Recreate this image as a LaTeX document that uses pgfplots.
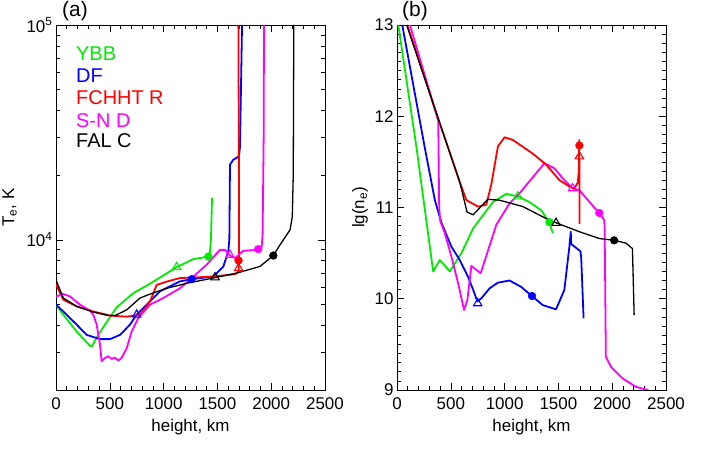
\documentclass[border=0pt]{standalone}
\usepackage{fontspec}
\setmainfont{Liberation Sans}
\usepackage{pgfplots}
\pgfplotsset{compat=1.18}

\definecolor{cgreen}{RGB}{0,235,0}
\definecolor{cblue}{RGB}{0,0,255}
\definecolor{cred}{RGB}{255,0,0}
\definecolor{cmag}{RGB}{255,0,255}

\pgfplotsset{
  idl/.style={
    scale only axis, width=269bp, height=365bp,
    xmin=0, xmax=2500, xtick={0,500,...,2500}, minor x tick num=4,
    tick pos=both, tick align=inside,
    major tick length=7bp, minor tick length=4bp,
    every tick/.style={black, line width=0.6pt},
    axis line style={line width=0.8pt},
    tick label style={font=\fontsize{17}{20}\selectfont},
    xticklabel style={yshift=-4bp},
    label style={font=\fontsize{17}{20}\selectfont},
    xlabel style={yshift=-3bp},
    /pgf/number format/assume math mode=true,
    /pgf/number format/1000 sep={},
    xlabel={height, km},
  },
  ln/.style={line width=1.8pt, line join=round, mark=none},
  lnk/.style={line width=1.3pt, line join=round, mark=none, black},
  tri/.style={only marks, mark=triangle, mark size=4.8bp, mark options={line width=1.1pt}},
  dot/.style={only marks, mark=*, mark size=3.9bp},
}

\begin{document}
\begin{tikzpicture}
\path[use as bounding box] (0,0) rectangle (704bp,463bp);

% (a) electron temperature
\begin{axis}[idl, at={(56bp,73bp)}, anchor=south west,
  ymode=log, ymin=2000, ymax=100000,
  ytick={10000,100000}, yticklabels={10\textsuperscript{4},10\textsuperscript{5}},
  minor ytick={2000,3000,4000,5000,6000,7000,8000,9000,20000,30000,40000,50000,60000,70000,80000,90000},
  ylabel={T\textsubscript{e}, K}, ylabel style={yshift=3bp}]
\addplot[ln, cgreen] coordinates {
  (0,4990) (68,4480) (192,3740) (316,3210) (332,3190) (393,3610) (486,4250)
  (564,4850) (719,5650) (874,6250) (1121,7460) (1276,8130) (1416,8360)
  (1430,8700) (1440,10000) (1450,15700)};
\addplot[ln, cblue] coordinates {
  (0,4990) (68,4640) (192,4030) (285,3610) (409,3450) (502,3450) (595,3610)
  (688,4030) (750,4480) (858,5080) (967,5760) (1150,6400) (1261,6560)
  (1462,6750) (1555,7510) (1601,8830) (1611,10000) (1617,22350) (1646,23550)
  (1695,24380) (1704,25300) (1710,27200) (1729,100000)};
\addplot[ln, cred] coordinates {
  (0,6200) (68,5260) (192,4900) (347,4640) (502,4440) (657,4390) (781,4480)
  (874,5170) (936,6170) (1029,6390) (1152,6640) (1230,6660) (1462,6750)
  (1664,6920) (1697,7100) (1700,8000) (1700,20000) (1695,100000)};
\addplot[ln, cmag] coordinates {
  (0,5450) (68,5590) (130,5450) (223,4990) (316,4680) (347,4480) (378,4030)
  (409,3250) (424,2720) (455,2820) (486,2870) (517,2790) (548,2830) (579,2740)
  (610,2820) (657,3130) (703,3740) (765,4330) (874,4990) (997,5360) (1152,5950)
  (1245,6520) (1400,7660) (1524,8980) (1571,8980) (1617,8450) (1664,8220)
  (1741,8890) (1865,8980) (1880,9050) (1912,9300) (1920,10540) (1930,30000)
  (1933,100000)};
\addplot[lnk] coordinates {
  (0,6500) (68,5360) (192,4900) (347,4610) (486,4440) (548,4440) (657,4720)
  (781,5360) (874,5590) (1029,5950) (1230,6300) (1462,6640) (1679,7000)
  (1896,7520) (2020,8450) (2082,9480) (2113,10000) (2144,10550) (2175,11130)
  (2196,12800) (2205,20000) (2210,100000)};
\addplot[tri, cgreen] coordinates {(1121,7460)};
\addplot[dot, cgreen] coordinates {(1416,8360)};
\addplot[tri, cblue] coordinates {(750,4480)};
\addplot[dot, cblue] coordinates {(1261,6560)};
\addplot[tri, cred] coordinates {(1697,7380)};
\addplot[dot, cred] coordinates {(1697,8010)};
\addplot[tri, cmag] coordinates {(1617,8500)};
\addplot[dot, cmag] coordinates {(1880,9050)};
\addplot[tri, black] coordinates {(1478,6680)};
\addplot[dot, black] coordinates {(2020,8450)};
\end{axis}

% (b) electron density
\begin{axis}[idl, at={(397bp,73bp)}, anchor=south west,
  ymin=9, ymax=13, ytick={9,10,...,13}, minor y tick num=9,
  ylabel={lg(n\textsubscript{e})}]
\addplot[ln, cgreen] coordinates {
  (12,13) (182,11.65) (336,10.30) (398,10.425) (491,10.30) (599,10.50)
  (707,10.77) (815,10.94) (892,11.06) (1016,11.15) (1123,11.12) (1231,11.06)
  (1340,10.97) (1401,10.86) (1417,10.83) (1448,10.72)};
\addplot[ln, cblue] coordinates {
  (49,13) (259,11.65) (352,11.08) (414,10.83) (506,10.57) (583,10.425)
  (660,10.24) (707,10.10) (747,9.97) (784,10.005) (861,10.115) (938,10.176)
  (1046,10.20) (1154,10.13) (1253,10.03) (1355,9.93) (1478,9.884) (1555,10.096)
  (1602,10.57) (1615,10.735) (1619,10.60) (1705,10.52) (1712,10.45) (1734,9.786)};
\addplot[ln, cmag] coordinates {
  (120,13) (383,11.95) (392,11.0) (402,10.85) (444,10.72) (506,10.46)
  (568,10.17) (623,9.877) (654,9.986) (691,10.36) (778,10.28) (923,10.81)
  (1046,11.046) (1139,11.156) (1370,11.485) (1463,11.43) (1540,11.32)
  (1632,11.21) (1694,11.19) (1787,11.064) (1880,10.936) (1926,10.863)
  (1930,10.75) (1941,9.365) (1988,9.255) (2095,9.128) (2219,9.036)
  (2327,9.0) (2360,8.98)};
\addplot[ln, cred] coordinates {
  (95,13) (367,12.03) (583,11.28) (645,11.08) (753,11.01) (830,11.03)
  (876,11.25) (938,11.67) (1000,11.77) (1077,11.74) (1262,11.59) (1386,11.47)
  (1509,11.30) (1602,11.23) (1648,11.21) (1679,11.27) (1690,11.40)
  (1694,11.74) (1697,10.82)};
\addplot[lnk] coordinates {
  (90,13) (367,12.03) (583,11.28) (651,10.95) (707,10.92) (845,11.09)
  (954,11.08) (1170,11.01) (1417,10.86) (1694,10.735) (1880,10.66)
  (2018,10.64) (2127,10.61) (2188,10.55) (2204,9.82)};
\addplot[tri, cgreen] coordinates {(1123,11.12)};
\addplot[dot, cgreen] coordinates {(1417,10.84)};
\addplot[tri, cblue] coordinates {(750,9.95)};
\addplot[dot, cblue] coordinates {(1255,10.03)};
\addplot[tri, cred] coordinates {(1695,11.56)};
\addplot[dot, cred] coordinates {(1695,11.68)};
\addplot[tri, cmag] coordinates {(1632,11.21)};
\addplot[dot, cmag] coordinates {(1880,10.94)};
\addplot[tri, black] coordinates {(1478,10.83)};
\addplot[dot, black] coordinates {(2018,10.64)};
\end{axis}

\begin{scope}[font=\fontsize{21}{24}\selectfont]
\node at (75bp,452bp) {(a)};
\node at (415bp,452bp) {(b)};
\end{scope}
\begin{scope}[font=\fontsize{20}{24}\selectfont, anchor=base west, inner sep=0pt]
\node[text=cgreen] at (76bp,402bp) {YBB};
\node[text=cblue]  at (76bp,380bp) {DF};
\node[text=cred]   at (76bp,358bp) {FCHHT R};
\node[text=cmag]   at (76bp,335bp) {S-N D};
\node[text=black]  at (76bp,315bp) {FAL C};
\end{scope}
\end{tikzpicture}
\end{document}
